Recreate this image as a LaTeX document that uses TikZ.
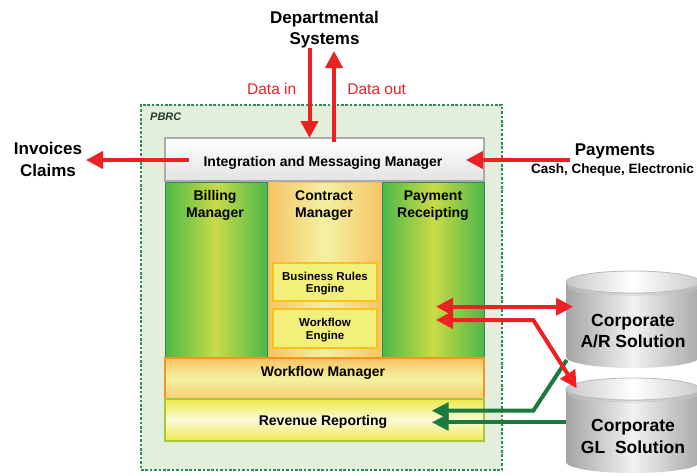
\documentclass[tikz,border=0pt]{standalone}
\usepackage{fontspec}
\setmainfont{Liberation Sans}
\usetikzlibrary{arrows.meta}
\definecolor{ared}{HTML}{ED2024}
\definecolor{agreen}{HTML}{1B7A3E}
\definecolor{pbrcfill}{HTML}{E3EFDB}
\definecolor{pbrcline}{HTML}{2A8F55}
\definecolor{grnedge}{HTML}{4DB848}
\definecolor{grnmid}{HTML}{C9DB47}
\definecolor{grnline}{HTML}{2E8B57}
\definecolor{orgedge}{HTML}{F7C464}
\definecolor{orgmid}{HTML}{F4F1A2}
\definecolor{orgline}{HTML}{F7941D}
\definecolor{engfill}{HTML}{F3EF7B}
\definecolor{engline}{HTML}{F9C21A}
\definecolor{revedge}{HTML}{EEE94B}
\definecolor{revmid}{HTML}{FBFAD8}
\definecolor{revline}{HTML}{A5C83C}
\definecolor{cylL}{HTML}{A4A4A4}
\definecolor{cylM}{HTML}{F2F2F2}
\definecolor{cylR}{HTML}{A8A8A8}
\definecolor{pbrctext}{HTML}{22382A}
\newcommand\dbcyl[3]{%
  \shade[left color=cylL, right color=cylR, middle color=cylM]
    (#1-67,#2) -- (#1-67,#3) arc[start angle=180,end angle=0,x radius=67,y radius=11] -- (#1+67,#2) -- cycle;
  \shade[left color=cylL!60, right color=cylR!60, middle color=white, draw=gray!55, line width=0.8pt]
    (#1,#2) ellipse[x radius=67,y radius=11];
  \draw[gray!45, line width=0.7pt] (#1-65,#2+2.5) arc[start angle=180,end angle=0,x radius=65,y radius=9];
  \draw[gray!45, line width=0.7pt] (#1-65,#2+5) arc[start angle=180,end angle=0,x radius=65,y radius=8];
}
\begin{document}
\begin{tikzpicture}[x=1pt,y=-1pt,
  lbl/.style={font=\bfseries\fontsize{14}{17}\selectfont, align=center, inner sep=0pt, anchor=base},
  biglbl/.style={font=\bfseries\fontsize{17}{21.5}\selectfont, align=center, inner sep=0pt, anchor=base},
  redlbl/.style={font=\fontsize{15.5}{18}\selectfont, text=ared, inner sep=0pt, anchor=base},
  englbl/.style={font=\bfseries\fontsize{11.5}{12.7}\selectfont, align=center, inner sep=0pt, anchor=base},
  blank/.style={inner sep=0pt, outer sep=0pt},
  pbrcbox/.style={blank, fill=pbrcfill, draw=pbrcline, line width=2.6pt, dash pattern=on 2.6pt off 1.8pt},
  greencol/.style={blank, draw=grnline, line width=1pt, left color=grnedge, right color=grnedge, middle color=grnmid},
  orangecol/.style={blank, draw=orgedge!90!orange, line width=1pt, left color=orgedge, right color=orgedge, middle color=orgmid},
  engbox/.style={blank, fill=engfill, draw=engline, line width=2pt},
  redarrow/.style={draw=ared, line width=4pt, -{Triangle[length=17pt,width=17pt]}},
  redboth/.style={draw=ared, line width=4pt, {Triangle[length=17pt,width=17pt]}-{Triangle[length=17pt,width=17pt]}},
  greenarrow/.style={draw=agreen, line width=4pt, -{Triangle[length=17pt,width=16pt]}}
]
\useasboundingbox (0,0) rectangle (697,475);
\fill[white] (0,0) rectangle (697,475);

% PBRC container
\node[pbrcbox, minimum width=361pt, minimum height=365pt] (pbrc) at (321.5,287.5) {};
\node[font=\bfseries\itshape\fontsize{11}{13}\selectfont, text=pbrctext, inner sep=0pt, anchor=base west] (pbrclbl) at (150,120.5) {PBRC};

% Integration box
\node[blank, draw=gray!65, line width=1.6pt, top color=white, bottom color=gray!22, minimum width=319pt, minimum height=43pt] (imm) at (324.5,159.5) {};

% Columns
\node[greencol, minimum width=102pt, minimum height=175pt] (bill) at (216,269.5) {};
\node[orangecol, minimum width=114pt, minimum height=175pt] (contract) at (325,269.5) {};
\node[greencol, minimum width=102pt, minimum height=175pt] (pay) at (433,269.5) {};

% Engines
\node[engbox, minimum width=104pt, minimum height=38pt] (bre) at (325,282) {};
\node[engbox, minimum width=104pt, minimum height=39pt] (wfe) at (325,328.5) {};

% Workflow manager and revenue reporting
\node[blank, draw=orgline, line width=1.6pt, top color=orgedge, bottom color=orgedge!80!orgmid, middle color=orgmid, minimum width=319pt, minimum height=41pt] (wfm) at (324.5,378.5) {};
\node[blank, draw=revline, line width=1.6pt, top color=revedge, bottom color=revedge, middle color=revmid, minimum width=319pt, minimum height=42pt] (rev) at (324.5,420) {};

% Texts in boxes (base anchor = baseline of last line)
\node[lbl] (immt) at (323,166) {Integration and Messaging Manager};
\node[lbl] (billt) at (215,217.7) {Billing\\Manager};
\node[lbl] (contt) at (324,217.7) {Contract\\Manager};
\node[lbl] (payt) at (433,217.7) {Payment\\Receipting};
\node[englbl] (bret) at (325,292.7) {Business Rules\\Engine};
\node[englbl] (wfet) at (325,339.4) {Workflow\\Engine};
\node[lbl] (wfmt) at (323,376.7) {Workflow Manager};
\node[lbl] (revt) at (323,425) {Revenue Reporting};

% Outside labels
\node[biglbl] (dept) at (324.5,44.5) {Departmental\\Systems};
\node[biglbl] (inv) at (48,176) {Invoices\\Claims};
\node[biglbl] (paym) at (615,155) {Payments};
\node[font=\bfseries\fontsize{13.5}{16}\selectfont, inner sep=0pt, anchor=base west] (paydet) at (531,173) {Cash, Cheque, Electronic};
\node[redlbl] (din) at (271.7,94) {Data in};
\node[redlbl] (dout) at (376.7,94) {Data out};

% Coordinates for connectors
\coordinate (dinS) at (309.5,48);
\coordinate (dinE) at (309.5,138);
\coordinate (doutS) at (334,142);
\coordinate (doutE) at (334,51);
\coordinate (invS) at (189,160);
\coordinate (invE) at (86,160);
\coordinate (paymS) at (570,160);
\coordinate (paymE) at (466,160);
\coordinate (r1a) at (436,306.7);
\coordinate (r1b) at (573,306.7);
\coordinate (r2a) at (436,320);
\coordinate (r2m) at (533.3,320);
\coordinate (r2b) at (576.7,388.3);
\coordinate (g1a) at (566.7,360);
\coordinate (g1m) at (533.3,410.7);
\coordinate (g1b) at (431.7,410.7);
\coordinate (g2a) at (565.7,422.3);
\coordinate (g2b) at (431.7,422.3);

% Green connectors (behind cylinders)
\draw[greenarrow] (g1a) -- (g1m) -- (g1b);
\draw[greenarrow] (g2a) -- (g2b);

% Cylinders
\dbcyl{633}{282}{357}
\dbcyl{633}{389}{462}
\node[biglbl, font=\bfseries\fontsize{17.5}{21}\selectfont] (ar) at (633,347) {Corporate\\A/R Solution};
\node[biglbl, font=\bfseries\fontsize{17.5}{22}\selectfont] (gl) at (633,453) {Corporate\\GL~ Solution};

% Red connectors
\draw[redarrow] (dinS) -- (dinE);
\draw[redarrow] (doutS) -- (doutE);
\draw[redarrow] (invS) -- (invE);
\draw[redarrow] (paymS) -- (paymE);
\draw[redboth] (r1a) -- (r1b);
\draw[redboth] (r2a) -- (r2m) -- (r2b);
\end{tikzpicture}
\end{document}
